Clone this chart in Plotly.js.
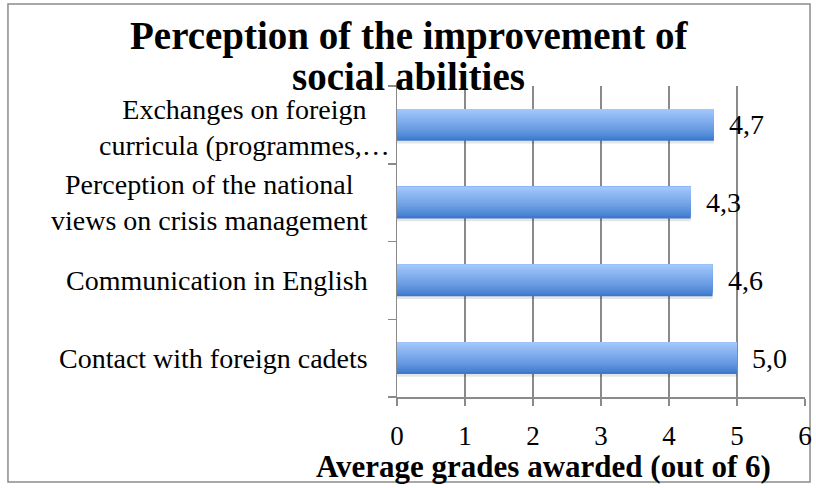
<!DOCTYPE html>
<html>
<head>
<meta charset="utf-8">
<script src="https://cdn.plot.ly/plotly-3.0.1.min.js"></script>
<style>html,body{margin:0;padding:0;background:#fff;}#chart{width:816px;height:488px;}</style>
</head>
<body>
<div id="chart"></div>
<script>
// ---- data (bottom to top) ----
const categories = [
  "Contact with foreign cadets",
  "Communication in English",
  "Perception of the national<br>views on crisis management",
  "Exchanges on foreign<br>curricula (programmes,…"
];
const values = [5.0, 4.64, 4.32, 4.66];
const xTickVals = [0, 1, 2, 3, 4, 5, 6];
const titleLines = ["Perception of the improvement of", "social abilities"];
const xTitle = "Average grades awarded (out of 6)";

// ---- styling ----
const FONT = "Liberation Serif, Times New Roman, serif";
const GRID = "#8a8a8a";
const barWidth = 0.41;
const nSlices = 14;
const bottomCol = [60, 121, 205];
const topCol = [160, 198, 252];

const traces = [];
// soft shadow under bars
traces.push({
  type: "bar", orientation: "h", y: categories, x: values,
  width: barWidth, offset: -barWidth / 2 - 0.035,
  marker: { color: "rgba(0,0,0,0.10)", line: { width: 0 } },
  hoverinfo: "skip", showlegend: false
});
const sw = barWidth / nSlices;
for (let i = 0; i < nSlices; i++) {
  const t = i / (nSlices - 1);
  const c = bottomCol.map((b, k) => Math.round(b + (topCol[k] - b) * Math.pow(t, 0.8)));
  traces.push({
    type: "bar", orientation: "h", y: categories, x: values,
    width: barWidth - i * sw, offset: -barWidth / 2 + i * sw,
    marker: { color: `rgb(${c[0]},${c[1]},${c[2]})`, line: { width: 0 } },
    hoverinfo: "skip", showlegend: false
  });
}

const annotations = [];
// title
annotations.push({ text: "<b>" + titleLines[0] + "</b>", xref: "paper", yref: "paper", x: 0.029, y: 1.160,
  xanchor: "center", yanchor: "middle", showarrow: false, font: { family: FONT, size: 39, color: "#000" } });
annotations.push({ text: "<b>" + titleLines[1] + "</b>", xref: "paper", yref: "paper", x: 0.029, y: 1.030,
  xanchor: "center", yanchor: "middle", showarrow: false, font: { family: FONT, size: 39, color: "#000" } });
// category labels
categories.forEach((c, i) => {
  annotations.push({ text: c, xref: "paper", yref: "y", x: -0.066, y: c,
    xanchor: "right", yanchor: "middle", align: "center", showarrow: false,
    xshift: (c.indexOf("…") >= 0 ? 22 : 0),
    yshift: (c.indexOf("…") >= 0 ? -3 : 0),
    font: { family: FONT, size: 28, color: "#000" } });
});
// value labels
values.forEach((v, i) => {
  annotations.push({ text: v.toFixed(1).replace(".", ","), xref: "x", yref: "y", x: v, y: categories[i],
    xanchor: "left", yanchor: "middle", xshift: 13, showarrow: false,
    font: { family: FONT, size: 28, color: "#000" } });
});
// x axis title
annotations.push({ text: "<b>" + xTitle + "</b>", xref: "paper", yref: "paper", x: 0.36, y: -0.225,
  xanchor: "center", yanchor: "middle", showarrow: false, font: { family: FONT, size: 31, color: "#000" } });

const layout = {
  width: 816, height: 488,
  margin: { l: 397, r: 11, t: 86, b: 91, pad: 0 },
  paper_bgcolor: "#fff", plot_bgcolor: "#fff",
  barmode: "overlay", showlegend: false,
  separators: ",.",
  xaxis: {
    range: [0, 6], tickvals: xTickVals, ticktext: xTickVals.map(String),
    showgrid: true, gridcolor: GRID, gridwidth: 1.5,
    showline: true, linecolor: GRID, linewidth: 1.5,
    ticks: "outside", ticklen: 7, tickcolor: GRID, tickwidth: 1.5,
    ticklabelstandoff: 7,
    tickfont: { family: FONT, size: 27, color: "#000" },
    zeroline: false, fixedrange: true
  },
  yaxis: {
    type: "category", categoryorder: "array", categoryarray: categories,
    range: [-0.5, 3.5], tickson: "boundaries",
    ticks: "outside", ticklen: 8, tickcolor: GRID, tickwidth: 1.5,
    showticklabels: false, showgrid: false,
    showline: true, linecolor: GRID, linewidth: 1.5,
    zeroline: false, fixedrange: true
  },
  annotations: annotations,
  shapes: [{
    type: "rect", xref: "paper", yref: "paper",
    x0: -0.9535, x1: 1.0123, y0: -0.2733, y1: 1.2637,
    line: { color: "#8c8c8c", width: 1.5 }, fillcolor: "rgba(0,0,0,0)", layer: "below"
  }]
};

Plotly.newPlot("chart", traces, layout, { displayModeBar: false, staticPlot: true });
</script>
</body>
</html>
